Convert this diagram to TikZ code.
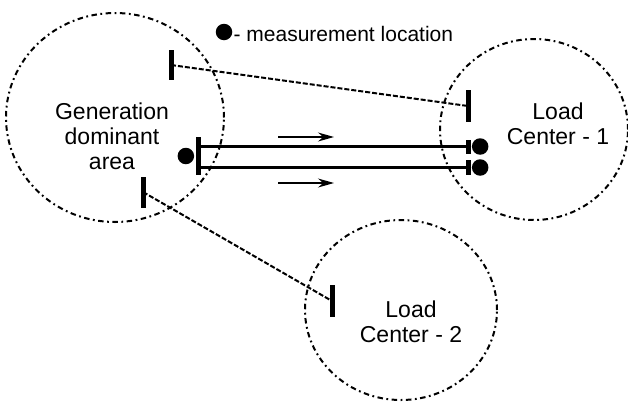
\documentclass[tikz,border=0pt]{standalone}
\usepackage{fontspec}
\setmainfont{Liberation Sans}
\usepackage{tikz}
\usetikzlibrary{positioning}
\usetikzlibrary{arrows.meta,arrows}
\usetikzlibrary{shapes.geometric}

\tikzset{
	region/.style={draw,ellipse,line width=2pt,dash pattern=on 5.5pt off 3.5pt on 1.8pt off 3.5pt,inner sep=0},
	bar/.style={fill,inner sep=0,minimum width=5pt},
	meas/.style={fill,circle,inner sep=0,minimum size=16.5pt},
	tie/.style={line width=2pt,dash pattern=on 5pt off 2pt},
	link/.style={line width=2.2pt},
	areatext/.style={align=center,font=\fontsize{23}{25}\selectfont},
}

\begin{document}
\begin{tikzpicture}[x=1pt,y=-1pt]
				\useasboundingbox (0,0) rectangle (628,402);
				\node[region,minimum width=218pt,minimum height=209pt](gen) at (115,117.5) {};
				\node[region,minimum width=188pt,minimum height=181pt](lc1) at (534,129.5) {};
				\node[region,minimum width=192pt,minimum height=180pt](lc2) at (401,310) {};
				\node[areatext](genlbl) at (112,136) {Generation \\ dominant \\ area};
				\node[areatext](lc1lbl) at (558,124) {Load \\ Center - 1};
				\node[areatext](lc2lbl) at (411,322) {Load \\ Center - 2};

				\node[meas](key) at (224,32) {};
				\node[right=1pt of key,inner sep=0,yshift=-2pt,font=\fontsize{21}{24}\selectfont](keylbl) {- measurement location};

				\node[bar,minimum height=30pt](tl) at (171,65) {};
				\node[bar,minimum height=32pt](tr) at (468,106) {};
				\node[bar,minimum height=38pt](lm) at (198,156) {};
				\node[bar,minimum height=14pt](r1) at (468,146.5) {};
				\node[bar,minimum height=15pt](r2) at (468,167.5) {};
				\node[bar,minimum height=31pt](bl) at (143,192) {};
				\node[bar,minimum height=32pt](br) at (332,301) {};

				\node[meas,left=1pt of lm](d0) {};
				\node[meas,right=1pt of r1](d1) {};
				\node[meas,right=1pt of r2](d2) {};

				\coordinate (a1) at (278,137);
				\coordinate (a2) at (278,183);

				\draw[tie] (tl.center) to (tr.center);
				\draw[tie] (bl.center) to (br.center);
				\draw[link] (r1.center -| lm.center) to (r1.center);
				\draw[link] (r2.center -| lm.center) to (r2.center);
				\draw[line width=1.2pt,-{Stealth[length=16pt,width=9pt]}] (a1) to ++(56,0);
				\draw[line width=1.2pt,-{Stealth[length=16pt,width=9pt]}] (a2) to ++(56,0);
			\end{tikzpicture}
\end{document}
